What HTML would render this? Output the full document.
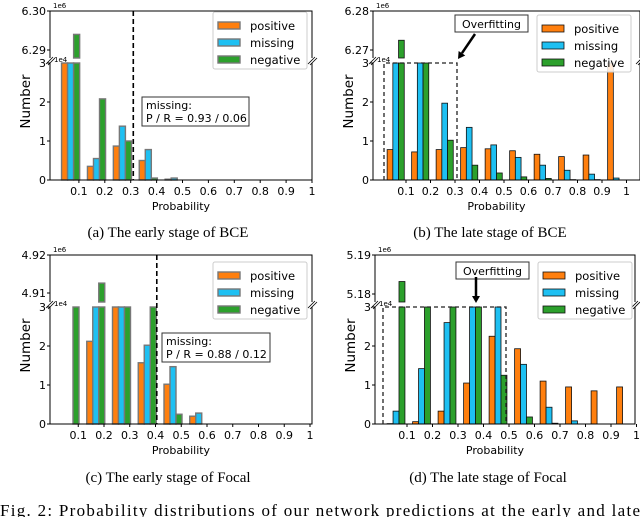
<!DOCTYPE html>
<html><head><meta charset="utf-8">
<style>
html,body{margin:0;padding:0;background:#fff;width:640px;height:517px;overflow:hidden}
svg{display:block;font-family:"DejaVu Sans","Liberation Sans",sans-serif}
.cap{font-family:"Liberation Serif",serif;font-size:15px}
</style></head>
<body>
<svg id="fig" width="640" height="517" viewBox="0 0 640 517" xmlns="http://www.w3.org/2000/svg">
<text class="cap" x="168" y="237" text-anchor="middle">(a) The early stage of BCE</text>
<text class="cap" x="490" y="237" text-anchor="middle">(b) The late stage of BCE</text>
<text class="cap" x="168" y="482" text-anchor="middle">(c) The early stage of Focal</text>
<text class="cap" x="488" y="482" text-anchor="middle">(d) The late stage of Focal</text>
<text class="cap" x="0" y="516" textLength="640" lengthAdjust="spacing" style="font-size:17px">Fig. 2:  Probability distributions of our network predictions at the early and late</text>
</svg>
<script>
const tickLabels = ['0.1','0.2','0.3','0.4','0.5','0.6','0.7','0.8','0.9','1'];
const tickValues = [0.1,0.2,0.3,0.4,0.5,0.6,0.7,0.8,0.9,1.0];
const seriesNames = ['positive','missing','negative'];
// counts per 0.1 bin
const aPositive = [40000, 3500, 8700, 5000, 200, 0, 0, 0, 0, 0];
const aMissing  = [40000, 5500, 13800, 7800, 500, 0, 0, 0, 0, 0];
const aNegative = [6294000, 20800, 10000, 500, 0, 0, 0, 0, 0, 0];
const bPositive = [7800, 7200, 7800, 8300, 8000, 7500, 6600, 6000, 6400, 40000];
const bMissing  = [40000, 40000, 19700, 13500, 9000, 5800, 3800, 2500, 1500, 500];
const bNegative = [6272500, 40000, 10200, 3800, 1800, 800, 400, 100, 100, 0];
const cPositive = [0, 21200, 40000, 15700, 10200, 2000, 0, 0, 0, 0];
const cMissing  = [0, 40000, 40000, 20200, 14700, 2800, 0, 0, 0, 0];
const cNegative = [40000, 4912600, 40000, 40000, 2500, 0, 0, 0, 0, 0];
const dPositive = [100, 600, 3300, 10500, 22500, 19300, 11000, 9500, 8500, 9500];
const dMissing  = [3300, 14200, 26000, 40000, 40000, 15300, 4300, 800, 0, 0];
const dNegative = [5183200, 40000, 40000, 40000, 12500, 1800, 200, 0, 0, 0];
const upperTicksA = [6.30, 6.29];
const upperTicksB = [6.28, 6.27];
const upperTicksC = [4.92, 4.91];
const upperTicksD = [5.19, 5.18];
const lowerTicks = [0, 1, 2, 3];

const NS='http://www.w3.org/2000/svg';
const svg=document.getElementById('fig');
const colors=['#ff7f0e','#1ec0f2','#2ca02c'];
function mk(tag,attrs,parent){const e=document.createElementNS(NS,tag);for(const k in attrs)e.setAttribute(k,attrs[k]);(parent||svg).appendChild(e);return e;}

const panels=[
 {id:'a',series:[aPositive,aMissing,aNegative],up:upperTicksA,left:50,right:312,x0:53,xs:259,off:0.033,top:11,upPx:39,upBot:58,lowTop:63,y0:180,edge:'#777',ew:1.4,vline:0.31,
  box:{x:142,y:97,w:107,h:29,l1:'missing:',l2:'P / R = 0.93 / 0.06'},legend:{x:213,y:12}},
 {id:'b',series:[bPositive,bMissing,bNegative],up:upperTicksB,left:373,right:640,x0:381.5,xs:245,off:0.023,top:11,upPx:39,upBot:58,lowTop:63,y0:180,edge:'#111',ew:0.8,
  over:{x1:384,x2:457,lx:455,ly:15,lw:73,ax1:475,ay1:34,ax2:458,ay2:59},legend:{x:537,y:15}},
 {id:'c',series:[cPositive,cMissing,cNegative],up:upperTicksC,left:50,right:312,x0:52.5,xs:257.5,off:0.033,top:255,upPx:38,upBot:302,lowTop:307,y0:424,edge:'#777',ew:1.4,vline:0.405,
  box:{x:162,y:333,w:108,h:29,l1:'missing:',l2:'P / R = 0.88 / 0.12'},legend:{x:213,y:262}},
 {id:'d',series:[dPositive,dMissing,dNegative],up:upperTicksD,left:375,right:635,x0:381.5,xs:255,off:0.022,top:255,upPx:39,upBot:302,lowTop:307,y0:424,edge:'#111',ew:0.8,
  over:{x1:383,x2:506,lx:456,ly:262,lw:73,ax1:476,ay1:277,ax2:476,ay2:303},legend:{x:538,y:262}}
];

panels.forEach(p=>{
 const g=mk('g',{});
 
 
 const unit=(p.y0-p.lowTop)/3;
 const X=v=>p.x0+v*p.xs;
 const YL=v=>p.y0-Math.min(v,30000)/10000*unit;
 const upMax=p.up[0]*1e6;
 const YU=v=>p.top+(upMax-v)/1e4*p.upPx;
 const upMin=upMax-(p.upBot-p.top)/p.upPx*1e4;
 const bw=0.0233*p.xs;
 p.series.forEach((arr,s)=>{
  arr.forEach((v,i)=>{
   const x=X(i*0.1+p.off+s*0.0233);
   if(v>0){
    const r=mk('rect',{x:x,y:YL(v),width:bw,height:p.y0-YL(v),fill:colors[s],stroke:p.edge,'stroke-width':p.ew},g);
    
    
   }
   if(v>upMin){
    const yt=Math.max(YU(v),p.top);
    const r2=mk('rect',{x:x,y:yt,width:bw,height:p.upBot-yt,fill:colors[s],stroke:p.edge,'stroke-width':p.ew},g);
    
    
   }
  });
 });
 const sp='stroke:#000;stroke-width:1;fill:none';
 mk('path',{d:`M${p.left},${p.upBot}V${p.top}H${p.right}V${p.upBot}`,style:sp},g);
 mk('path',{d:`M${p.left},${p.lowTop}V${p.y0}H${p.right}V${p.lowTop}`,style:sp},g);
 [p.left,p.right].forEach(x=>{
  mk('path',{d:`M${x-4},${p.lowTop+1}L${x+3},${p.upBot-1}M${x-2},${p.lowTop+2}L${x+5},${p.upBot}`,style:'stroke:#000;stroke-width:0.8;fill:none'},g);
 });
 p.up.forEach(t=>{
  const y=YU(t*1e6);
  mk('line',{x1:p.left-3,x2:p.left,y1:y,y2:y,stroke:'#000'},g);
  const tx=mk('text',{x:p.left-4,y:y+4,'font-size':11,'text-anchor':'end'},g);tx.textContent=t.toFixed(2);
 });
 const e6=mk('text',{x:p.left+3,y:p.top-3,'font-size':7},g);e6.textContent='1e6';
 const e4=mk('text',{x:p.left+4,y:p.lowTop-1,'font-size':7},g);e4.textContent='1e4';
 lowerTicks.forEach(t=>{
  const y=p.y0-t*unit;
  mk('line',{x1:p.left-3,x2:p.left,y1:y,y2:y,stroke:'#000'},g);
  const tx=mk('text',{x:p.left-4,y:y+4,'font-size':11,'text-anchor':'end'},g);tx.textContent=String(t);
 });
 tickValues.forEach((t,i)=>{
  const x=X(t);
  mk('line',{x1:x,x2:x,y1:p.y0,y2:p.y0+3,stroke:'#000'},g);
  const tx=mk('text',{x:x,y:p.y0+15,'font-size':11,'text-anchor':'middle'},g);tx.textContent=tickLabels[i];
 });
 const xl=mk('text',{x:(p.left+p.right)/2+(p.id==='b'||p.id==='d'?-10:0),y:p.y0+30,'font-size':11,'text-anchor':'middle'},g);
 xl.textContent='Probability';
 
 
 const ym=(p.top+p.y0)/2+6;
 const yl=mk('text',{x:p.left-20,y:ym,'font-size':13.5,'text-anchor':'middle',transform:`rotate(-90 ${p.left-20} ${ym})`},g);
 yl.textContent='Number';
 
 
 if(p.vline){
  const x=X(p.vline);
  mk('line',{x1:x,x2:x,y1:p.top,y2:p.y0,stroke:'#000','stroke-width':1.6,'stroke-dasharray':'5,3'},g);
  const b=p.box;
  const bg=mk('g',{},g);
  
  
  mk('rect',{x:b.x,y:b.y,width:b.w,height:b.h,fill:'#fff',stroke:'#333','stroke-width':1},bg);
  const t1=mk('text',{x:b.x+4,y:b.y+12,'font-size':11},bg);t1.textContent=b.l1;
  const t2=mk('text',{x:b.x+4,y:b.y+25,'font-size':11},bg);t2.textContent=b.l2;
 }
 if(p.over){
  const o=p.over;
  const og=mk('g',{},g);
  
  
  mk('path',{d:`M${o.x1},${p.y0}V${p.lowTop}H${o.x2}V${p.y0}`,style:'stroke:#222;stroke-width:1.3;fill:none;stroke-dasharray:4,3'},og);
  mk('rect',{x:o.lx,y:o.ly,width:o.lw,height:17,fill:'#fff',stroke:'#333'},og);
  const t=mk('text',{x:o.lx+o.lw/2,y:o.ly+13,'font-size':11,'text-anchor':'middle'},og);t.textContent='Overfitting';
  const ang=Math.atan2(o.ay2-o.ay1,o.ax2-o.ax1);
  const hx=o.ax2-7*Math.cos(ang),hy=o.ay2-7*Math.sin(ang);
  mk('line',{x1:o.ax1,y1:o.ay1,x2:hx,y2:hy,stroke:'#000','stroke-width':2.5},og);
  const px=-Math.sin(ang)*4,py=Math.cos(ang)*4;
  mk('polygon',{points:`${o.ax2},${o.ay2} ${hx+px},${hy+py} ${hx-px},${hy-py}`,fill:'#000'},og);
 }
 const L=p.legend;
 const lg=mk('g',{},g);
 
 
 mk('rect',{x:L.x,y:L.y,width:94,height:57,rx:2,fill:'#fff','fill-opacity':0.85,stroke:'#ccc'},lg);
 seriesNames.forEach((n,s)=>{
  const y=L.y+10+s*17;
  const le=mk('g',{},lg);
  
  
  mk('rect',{x:L.x+5,y:y,width:22,height:7,fill:colors[s],stroke:p.edge,'stroke-width':p.ew},le);
  const t=mk('text',{x:L.x+37,y:y+8,'font-size':11.5},le);t.textContent=n;
 });
});
</script>
</body></html>
